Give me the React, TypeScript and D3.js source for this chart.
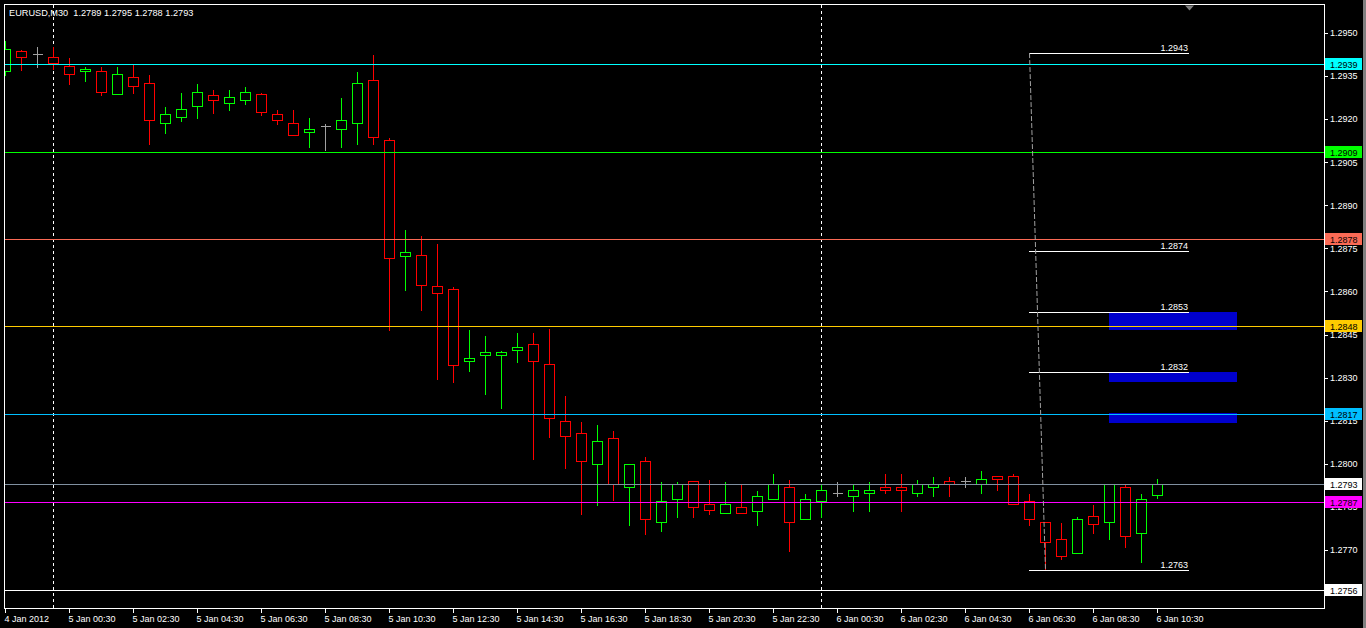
import React from "react";
import * as d3 from "d3";

// ---------- data ----------
const SYMBOL = "EURUSD,M30";
const FIRST_BAR = new Date(2012, 0, 4, 22, 30);
const BAR_MINUTES = 30;

const OPEN = [
  1.29367, 1.29436, 1.29427, 1.29415, 1.29384, 1.29367, 1.29367, 1.29287, 1.29346, 1.29325,
  1.29186, 1.29206, 1.29245, 1.29285, 1.29255, 1.29266, 1.29287, 1.29217, 1.29186, 1.29154,
  1.29175, 1.29165, 1.29186, 1.29335, 1.29126, 1.28725, 1.28726, 1.28618, 1.28608, 1.28357,
  1.28378, 1.28378, 1.28395, 1.28416, 1.28346, 1.28148, 1.28106, 1.27998, 1.28089, 1.27918,
  1.28009, 1.27796, 1.27876, 1.27939, 1.27859, 1.27828, 1.27848, 1.27837, 1.27876, 1.27918,
  1.27807, 1.27869, 1.27897, 1.27887, 1.27897, 1.27918, 1.27918, 1.27897, 1.27918, 1.27939,
  1.27939, 1.27929, 1.27956, 1.27956, 1.27869, 1.27796, 1.27737, 1.27688, 1.27817, 1.27796,
  1.27918, 1.27758, 1.2789,
];
const HIGH = [
  1.29476, 1.29444, 1.29455, 1.29455, 1.29415, 1.29385, 1.29385, 1.29385, 1.29396, 1.29357,
  1.29246, 1.29295, 1.29326, 1.29305, 1.29304, 1.29315, 1.29295, 1.29234, 1.29235, 1.29206,
  1.29187, 1.29276, 1.29368, 1.29427, 1.29138, 1.28817, 1.28797, 1.28769, 1.28619, 1.28469,
  1.28448, 1.28395, 1.28459, 1.28459, 1.28473, 1.28239, 1.28148, 1.28138, 1.28118, 1.27998,
  1.28027, 1.2794, 1.27939, 1.27939, 1.27947, 1.2794, 1.2793, 1.27909, 1.27968, 1.27947,
  1.27898, 1.27929, 1.2794, 1.27929, 1.2794, 1.27968, 1.27968, 1.27947, 1.27957, 1.27957,
  1.27957, 1.27978, 1.27956, 1.27967, 1.27898, 1.27796, 1.27796, 1.27817, 1.27859, 1.27929,
  1.27929, 1.27897, 1.2795,
];
const LOW = [
  1.29355, 1.29372, 1.29383, 1.29374, 1.29323, 1.29334, 1.29285, 1.29287, 1.29292, 1.29115,
  1.29153, 1.29195, 1.29205, 1.29222, 1.29233, 1.29254, 1.29216, 1.29184, 1.29146, 1.29104,
  1.29094, 1.29104, 1.29115, 1.29115, 1.28467, 1.28606, 1.28537, 1.28295, 1.28286, 1.28324,
  1.28244, 1.28195, 1.28355, 1.28018, 1.28094, 1.27986, 1.27826, 1.27857, 1.27875, 1.27788,
  1.27757, 1.27767, 1.27816, 1.27816, 1.27826, 1.27828, 1.27828, 1.27787, 1.27876, 1.27697,
  1.27807, 1.27816, 1.27887, 1.27837, 1.27837, 1.27897, 1.27837, 1.27887, 1.27887, 1.27887,
  1.27918, 1.27897, 1.27908, 1.27859, 1.27788, 1.2763, 1.27667, 1.27688, 1.27758, 1.27737,
  1.27709, 1.27657, 1.2788,
];
const CLOSE = [
  1.29443, 1.29415, 1.29427, 1.29394, 1.29356, 1.29374, 1.29294, 1.29356, 1.29314, 1.29196,
  1.29217, 1.29234, 1.29294, 1.29266, 1.29276, 1.29294, 1.29224, 1.29196, 1.29146, 1.29165,
  1.29175, 1.29196, 1.29325, 1.29137, 1.28715, 1.28736, 1.28624, 1.28596, 1.28345, 1.28367,
  1.28388, 1.28388, 1.28406, 1.28357, 1.28158, 1.28096, 1.28009, 1.28078, 1.27928, 1.27998,
  1.27807, 1.27869, 1.27928, 1.27848, 1.27838, 1.27859, 1.27828, 1.27887, 1.27928, 1.27796,
  1.27876, 1.27908, 1.27897, 1.27908, 1.27908, 1.27908, 1.27908, 1.27929, 1.27929, 1.27929,
  1.27939, 1.27946, 1.27946, 1.27859, 1.27807, 1.27727, 1.27678, 1.27807, 1.27789, 1.27929,
  1.27747, 1.27876, 1.2793,
];

const PRICE_TICKS = [
  1.295, 1.2935, 1.292, 1.2905, 1.289, 1.2875, 1.286, 1.2845, 1.283, 1.2815, 1.28, 1.2785, 1.277, 1.2755,
];
const TIME_TICKS = [
  "4 Jan 2012", "5 Jan 00:30", "5 Jan 02:30", "5 Jan 04:30", "5 Jan 06:30", "5 Jan 08:30",
  "5 Jan 10:30", "5 Jan 12:30", "5 Jan 14:30", "5 Jan 16:30", "5 Jan 18:30", "5 Jan 20:30",
  "5 Jan 22:30", "6 Jan 00:30", "6 Jan 02:30", "6 Jan 04:30", "6 Jan 06:30", "6 Jan 08:30",
  "6 Jan 10:30",
];

// horizontal level lines (price, colour)
const LEVELS = [1.29392, 1.29086, 1.28784, 1.28478, 1.28174, 1.27866, 1.27562];
const LEVEL_COLORS = ["#00ffff", "#00ff00", "#fa6a55", "#ffcc00", "#00bfff", "#ff00ff", "#ffffff"];

// price marks drawn as short labelled lines
const MARKS = [1.2943, 1.2874, 1.2853, 1.2832, 1.2763];
const MARK_BARS = [64, 74];
// dashed trend line: [bar, price]
const TREND = [
  [64, 1.2943],
  [65, 1.2763],
];
// blue zones: [top, bottom]
const ZONES = [
  [1.28529, 1.28467],
  [1.2832, 1.28286],
  [1.28177, 1.28142],
];
const ZONE_BARS = [69, 77];
const SHIFT_BAR = 74;

// ---------- layout ----------
const W = 1366;
const H = 628;
const L = 4.5;
const T = 4.5;
const R = 1324.5;
const B = 608.5;
const FONT = "'Liberation Sans', Arial, sans-serif";
const px = (v: number) => Math.round(v) + 0.5;

export default function App() {
  const n = OPEN.length;
  const x = d3.scaleLinear().domain([0, n - 1]).range([5, 5 + 16 * (n - 1)]);
  const y = d3.scaleLinear().domain([1.2755, 1.295]).range([593, 33]);
  const f4 = d3.format(".4f");

  const times = d3.range(n).map((i) => d3.timeMinute.offset(FIRST_BAR, i * BAR_MINUTES));
  const fmt = d3.timeFormat("%-d %b %H:%M");
  const fmtDate = d3.timeFormat("%-d %b %Y");
  const timeTicks = TIME_TICKS.map((lbl) => {
    let idx = times.findIndex((t) => fmt(t) === lbl);
    if (idx < 0) idx = times.findIndex((t) => fmtDate(t) === lbl);
    return { lbl, idx };
  }).filter((d) => d.idx >= 0);
  const separators = d3.range(n).filter((i) => times[i].getHours() === 0 && times[i].getMinutes() === 0);

  const last = n - 1;
  const header = `${SYMBOL}  ${f4(OPEN[last])} ${f4(HIGH[last])} ${f4(LOW[last])} ${f4(CLOSE[last])}`;
  const bid = CLOSE[last];

  const axisLabels = [
    ...LEVELS.map((p, i) => ({ p, fill: LEVEL_COLORS[i] })),
    { p: bid, fill: "#ffffff" },
  ];

  return (
    <svg
      width={W}
      height={H}
      style={{ position: "absolute", left: 0, top: 0, display: "block" }}
      fontFamily={FONT}
    >
      <defs>
        <clipPath id="plot">
          <rect x={L + 0.5} y={T + 0.5} width={R - L - 1} height={B - T - 1} />
        </clipPath>
      </defs>
      <rect x={0} y={0} width={W} height={H} fill="#000" />
      <rect x={1363} y={0} width={W - 1363} height={H} fill="#808080" />

      <g clipPath="url(#plot)" shapeRendering="crispEdges">
        {/* zones */}
        {ZONES.map((z, i) => (
          <rect
            key={"z" + i}
            x={Math.round(x(ZONE_BARS[0]))}
            y={Math.round(y(z[0]))}
            width={Math.round(x(ZONE_BARS[1]) - x(ZONE_BARS[0]))}
            height={Math.round(y(z[1]) - y(z[0]))}
            fill="#0000cd"
          />
        ))}
        {/* day separators */}
        {separators.map((i) => (
          <line
            key={"s" + i}
            x1={px(x(i))}
            x2={px(x(i))}
            y1={T}
            y2={B}
            stroke="#fff"
            strokeWidth={1}
            strokeDasharray="3,3"
          />
        ))}
        {/* candles */}
        {OPEN.map((o, i) => {
          const c = CLOSE[i];
          const cx = px(x(i));
          const doji = Math.abs(o - c) < 1e-7;
          const col = doji ? "#a0a0a0" : c > o ? "#00ff00" : "#ff0000";
          const top = px(y(Math.max(o, c)));
          const bot = px(y(Math.min(o, c)));
          return (
            <g key={"c" + i}>
              <line x1={cx} x2={cx} y1={px(y(HIGH[i]))} y2={px(y(LOW[i]))} stroke={col} strokeWidth={1} />
              {doji ? (
                <line x1={cx - 5} x2={cx + 5} y1={top} y2={top} stroke={col} strokeWidth={1} />
              ) : (
                <rect
                  x={cx - 5}
                  y={top}
                  width={10}
                  height={Math.max(bot - top, 1)}
                  fill="#000"
                  stroke={col}
                  strokeWidth={1}
                />
              )}
            </g>
          );
        })}
        {/* level lines */}
        {LEVELS.map((p, i) => (
          <line key={"l" + i} x1={L} x2={R} y1={px(y(p))} y2={px(y(p))} stroke={LEVEL_COLORS[i]} strokeWidth={1} />
        ))}
        <line x1={L} x2={R} y1={px(y(bid))} y2={px(y(bid))} stroke="#8090a0" strokeWidth={1} />
        {/* price marks */}
        {MARKS.map((p, i) => (
          <line
            key={"m" + i}
            x1={Math.round(x(MARK_BARS[0]))}
            x2={Math.round(x(MARK_BARS[1]))}
            y1={px(y(p))}
            y2={px(y(p))}
            stroke="#fff"
            strokeWidth={1}
          />
        ))}
      </g>
      <g clipPath="url(#plot)">
        {MARKS.map((p, i) => (
          <text key={"mt" + i} x={x(MARK_BARS[1]) - 1} y={y(p) - 2} fill="#fff" fontSize={9} textAnchor="end">
            {f4(p)}
          </text>
        ))}
        {/* trend line */}
        <line
          x1={px(x(TREND[0][0]))}
          y1={y(TREND[0][1])}
          x2={px(x(TREND[1][0]))}
          y2={y(TREND[1][1])}
          stroke="#a0a0a0"
          strokeWidth={1}
          strokeDasharray="5,2"
        />
        {/* chart shift marker */}
        <polygon
          points={`${x(SHIFT_BAR) - 4},${T + 1} ${x(SHIFT_BAR) + 5},${T + 1} ${x(SHIFT_BAR) + 0.5},${T + 6}`}
          fill="#808080"
        />
      </g>

      {/* frame */}
      <rect
        x={L}
        y={T}
        width={R - L}
        height={B - T}
        fill="none"
        stroke="#fff"
        strokeWidth={1}
        shapeRendering="crispEdges"
      />

      {/* header */}
      <text x={9} y={16} fill="#fff" fontSize={9.2} style={{ whiteSpace: "pre" }}>
        {header}
      </text>

      {/* price axis */}
      {PRICE_TICKS.map((p) => (
        <g key={"pt" + p}>
          <line
            x1={R}
            x2={R + 3}
            y1={px(y(p))}
            y2={px(y(p))}
            stroke="#fff"
            strokeWidth={1}
            shapeRendering="crispEdges"
          />
          <text x={1330} y={y(p) + 3.3} fill="#fff" fontSize={9}>
            {f4(p)}
          </text>
        </g>
      ))}
      {axisLabels.map((d, i) => (
        <g key={"al" + i}>
          <rect
            x={1325}
            y={Math.round(y(d.p)) - 6}
            width={37}
            height={12}
            fill={d.fill}
            shapeRendering="crispEdges"
          />
          <text x={1330} y={Math.round(y(d.p)) + 3.5} fill="#000" fontSize={9}>
            {f4(d.p)}
          </text>
        </g>
      ))}

      {/* time axis */}
      {timeTicks.map((d) => (
        <g key={"tt" + d.idx}>
          <line
            x1={px(x(d.idx))}
            x2={px(x(d.idx))}
            y1={B}
            y2={B + 4}
            stroke="#fff"
            strokeWidth={1}
            shapeRendering="crispEdges"
          />
          <text x={x(d.idx) - 0.5} y={621.5} fill="#fff" fontSize={9}>
            {d.lbl}
          </text>
        </g>
      ))}
    </svg>
  );
}
